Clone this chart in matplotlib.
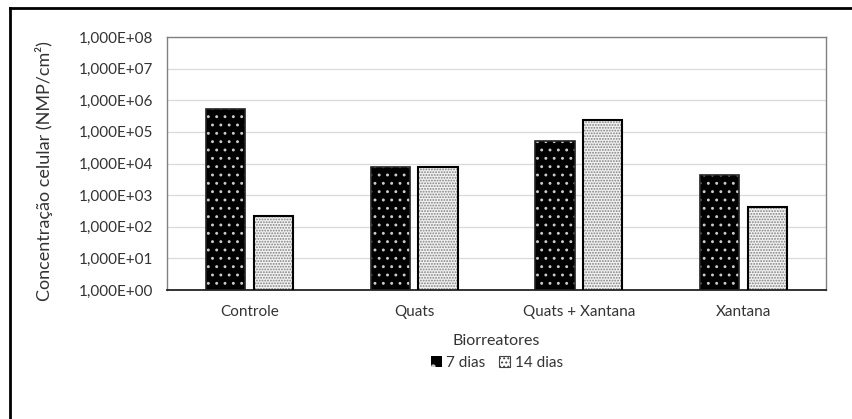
import numpy as np
import matplotlib
matplotlib.use('Agg')
import matplotlib.pyplot as plt
from matplotlib.patches import Patch
from matplotlib.ticker import FixedLocator, FuncFormatter

plt.rcParams['font.family'] = ['Lato', 'DejaVu Sans']
plt.rcParams['hatch.linewidth'] = 0.9

# data
categories = ['Controle', 'Quats', 'Quats + Xantana', 'Xantana']
dias7 = [5.3e5, 7.8e3, 5.2e4, 4.3e3]
dias14 = [2.2e2, 7.8e3, 2.4e5, 4.2e2]
series_names = ['7 dias', '14 dias']
yticks = [10.0 ** k for k in range(0, 9)]

fig = plt.figure(figsize=(8.53, 4.19), dpi=100)
ax = fig.add_axes([167 / 853, 1 - 290 / 419, 659 / 853, 253 / 419])

x = np.arange(len(categories))
w = 0.237
off = 0.145

# black bars with white dots
ax.bar(x - off, dias7, w, color='black', edgecolor='#cccccc', hatch='..', linewidth=0, zorder=2)
ax.bar(x - off, dias7, w, fill=False, edgecolor='#222222', linewidth=1.2, zorder=3)
# light bars with gray dots
ax.bar(x + off, dias14, w, color='#f2f2f2', edgecolor='#808080', hatch='......', linewidth=0, zorder=2)
ax.bar(x + off, dias14, w, fill=False, edgecolor='black', linewidth=1.5, zorder=3)

ax.set_yscale('log')
ax.set_ylim(1, 1e8)
ax.set_xlim(-0.5, len(categories) - 0.5)
ax.yaxis.set_major_locator(FixedLocator(yticks))
ax.yaxis.set_minor_locator(FixedLocator([]))
ax.yaxis.set_major_formatter(FuncFormatter(lambda v, p: '1,000E+%02d' % int(round(np.log10(v)))))
ax.grid(axis='y', color='#d9d9d9', linewidth=0.9, zorder=0)
ax.set_axisbelow(True)

ax.set_xticks(x)
ax.set_xticklabels(categories)
ax.tick_params(axis='both', length=0, labelsize=11, colors='#333333', pad=10)
ax.tick_params(axis='x', pad=11)

for side in ['top', 'right', 'left']:
    ax.spines[side].set_color('#808080')
    ax.spines[side].set_linewidth(1)
ax.spines['bottom'].set_color('#222222')
ax.spines['bottom'].set_linewidth(1.3)

ax.set_ylabel('Concentração celular (NMP/cm²)', fontsize=13, color='#333333')
ax.yaxis.set_label_coords((53 - 167) / 659, 0.47)
ax.set_xlabel('Biorreatores', fontsize=11.5, color='#333333')
ax.xaxis.set_label_coords(0.5, (290 - 334) / 253)

handles = [Patch(facecolor='black', edgecolor='#cccccc', hatch='.', linewidth=0),
           Patch(facecolor='white', edgecolor='#444444', hatch='....', linewidth=0.8)]
fig.legend(handles, series_names, loc='center', bbox_to_anchor=(497 / 853, 1 - 363 / 419),
           ncol=2, frameon=False, fontsize=11, handlelength=0.7, handleheight=0.7,
           handletextpad=0.3, columnspacing=0.9, labelcolor='#333333')

# outer chart frame (only top and left visible in the reference)
fig.add_artist(plt.Line2D([10 / 853, 1], [1 - 8 / 419, 1 - 8 / 419], color='black', linewidth=2, transform=fig.transFigure))
fig.add_artist(plt.Line2D([10 / 853, 10 / 853], [0, 1 - 8 / 419], color='black', linewidth=2, transform=fig.transFigure))

fig.savefig('out.png', dpi=100)
